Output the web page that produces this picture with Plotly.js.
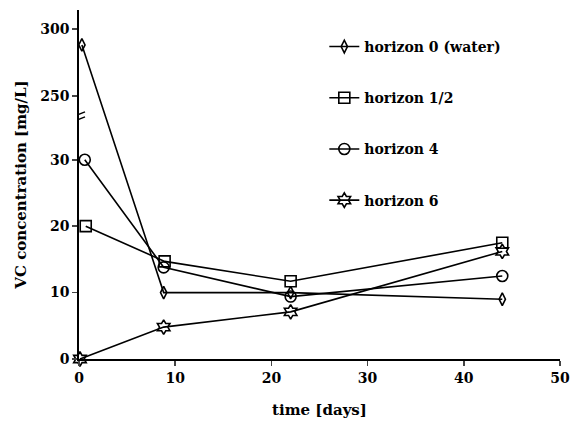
<!DOCTYPE html>
<html>
<head>
<meta charset="utf-8">
<script src="https://cdn.plot.ly/plotly-3.0.1.min.js"></script>
<style>html,body{margin:0;padding:0;background:#fff;}#chart{width:575px;height:425px;}</style>
</head>
<body>
<div id="chart"></div>
<script>
// ---- data ----
const seriesNames = ["horizon 0 (water)", "horizon 1/2", "horizon 4", "horizon 6"];
const days_h0 = [0.3, 8.8, 22, 44];
const days_h12 = [0.7, 8.9, 22, 44];
const days_h4 = [0.6, 8.8, 22, 44];
const days_h6 = [0.1, 8.8, 22, 44];
const vc_h0 = [288, 10, 10, 9];
const vc_h12 = [20, 14.7, 11.7, 17.5];
const vc_h4 = [30, 13.8, 9.4, 12.5];
const vc_h6 = [0, 4.8, 7.1, 16.2];
const yTickValues = [0, 10, 20, 30, 250, 300];
const yTickLabels = ["0", "10", "20", "30", "250", "300"];
const xTickValues = [0, 10, 20, 30, 40, 50];

// ---- broken y axis: lower segment 0..36.6, upper segment 235.1..314 ----
const breakLow = 36.6, breakHigh = 235.1, upperRatio = 0.2021, yTop = 314;
function fy(v) { return v <= breakLow ? v : breakLow + (v - breakHigh) * upperRatio; }

const fontFam = "DejaVu Serif, Liberation Serif, serif";
const symbols = ["diamond-tall-open", "square-open", "circle-open", "hexagram-open"];
const sizes = [9, 11, 11, 11];
const xs = [days_h0, days_h12, days_h4, days_h6];
const ys = [vc_h0, vc_h12, vc_h4, vc_h6];

const traces = seriesNames.map((n, i) => ({
  type: "scatter", mode: "lines+markers", name: n,
  x: xs[i], y: ys[i].map(fy), customdata: ys[i],
  hovertemplate: "%{x}: %{customdata}<extra>" + n + "</extra>",
  legendgroup: "g" + i,
  cliponaxis: false,
  line: {color: "#000", width: 1.6},
  marker: {symbol: symbols[i], size: sizes[i], color: "#000", line: {color: "#000", width: 1.6}}
}));

const layout = {
  width: 575, height: 425,
  margin: {l: 79, r: 14.5, t: 10, b: 66},
  paper_bgcolor: "#fff", plot_bgcolor: "#fff",
  font: {family: fontFam, color: "#000", size: 14},
  showlegend: true,
  legend: {x: 0.51, y: 0.94, xanchor: "left", yanchor: "top", traceorder: "grouped",
           tracegroupgap: 30, font: {family: fontFam, size: 14, color: "#000", weight: "bold"},
           bgcolor: "rgba(0,0,0,0)"},
  xaxis: {range: [0, 50], tickvals: xTickValues, ticks: "outside", ticklen: 5, tickwidth: 1.6,
          showline: true, linewidth: 1.8, linecolor: "#000", showgrid: false, zeroline: false,
          tickfont: {family: fontFam, size: 14, weight: "bold"},
          title: {text: "time [days]", font: {family: fontFam, size: 15, weight: "bold"}, standoff: 20}},
  yaxis: {range: [0, fy(yTop)], tickvals: yTickValues.map(fy), ticktext: yTickLabels,
          ticks: "outside", ticklen: 5, tickwidth: 1.6,
          showline: true, linewidth: 1.8, linecolor: "#000", showgrid: false, zeroline: false,
          tickfont: {family: fontFam, size: 14, weight: "bold"},
          title: {text: "VC concentration [mg/L]", font: {family: fontFam, size: 15, weight: "bold"}, standoff: 10}},
  shapes: [0, 1].map(k => ({
    type: "line", xref: "x", yref: "y", xsizemode: "pixel", ysizemode: "pixel",
    xanchor: 0, yanchor: fy(breakLow), x0: -7, x1: 6, y0: -6 + k * 5, y1: -1 + k * 5,
    line: {color: "#000", width: 1.5}
  }))
};

Plotly.newPlot("chart", traces, layout, {displayModeBar: false, staticPlot: true});
</script>
</body>
</html>
